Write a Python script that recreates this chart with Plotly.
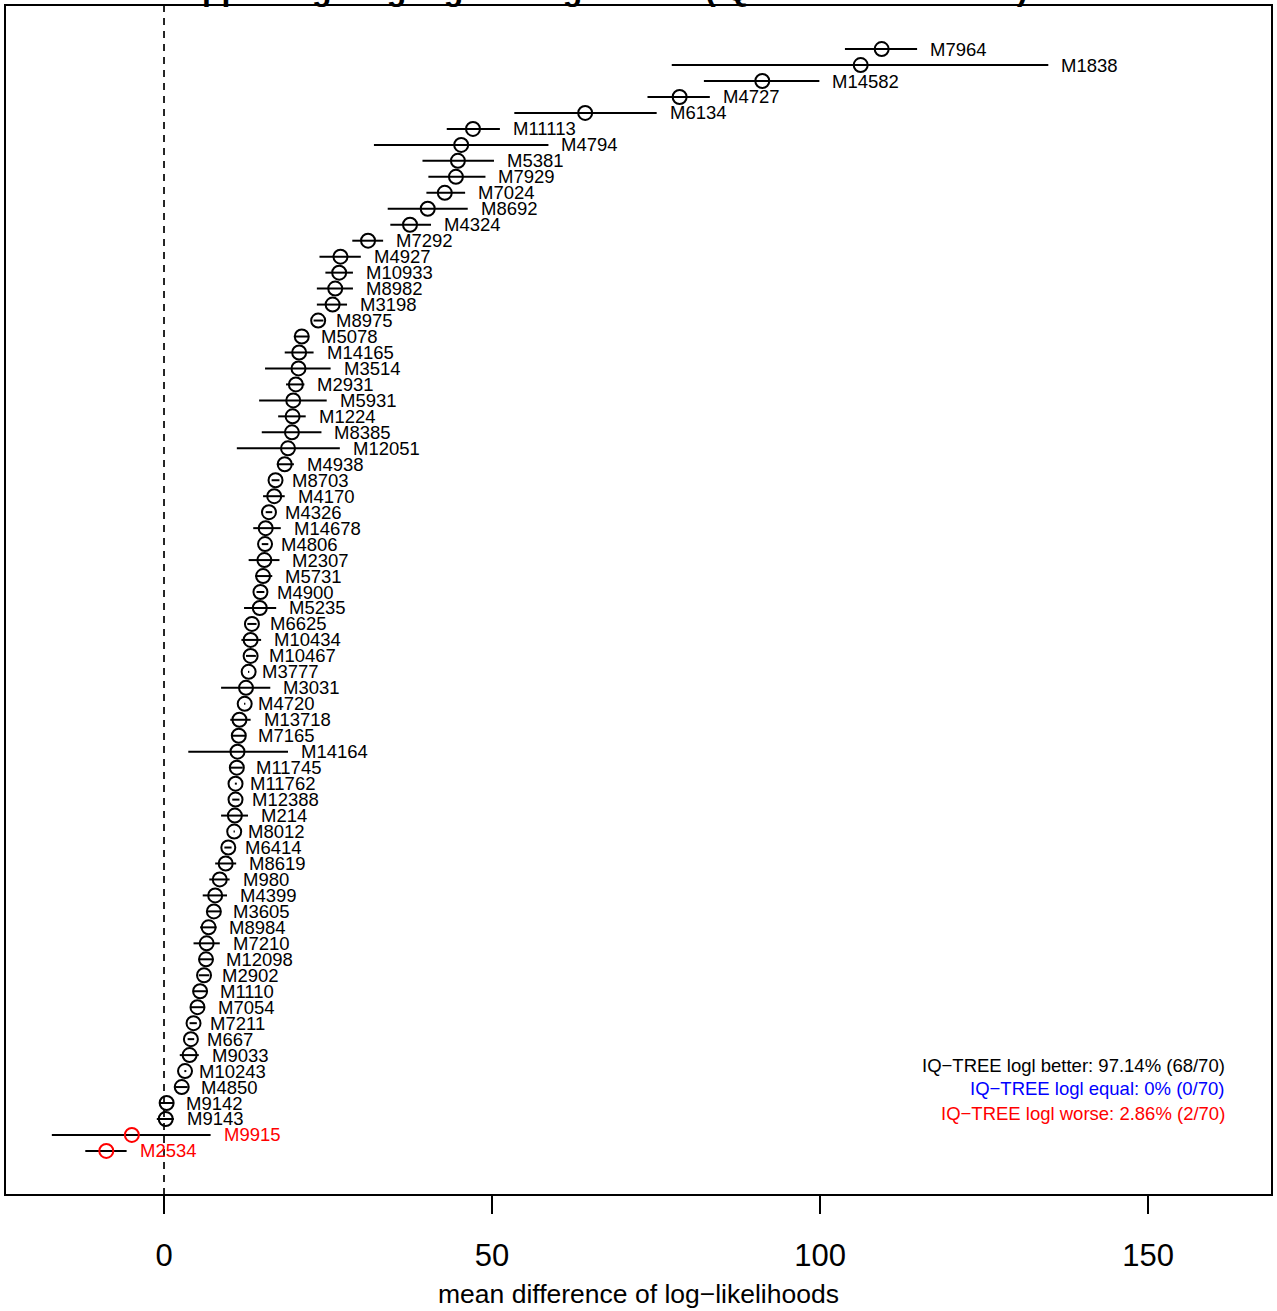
import plotly.graph_objects as go

# ---- data (top to bottom) ----
models = ["M7964", "M1838", "M14582", "M4727", "M6134", "M11113", "M4794", "M5381", "M7929", "M7024",
          "M8692", "M4324", "M7292", "M4927", "M10933", "M8982", "M3198", "M8975", "M5078", "M14165",
          "M3514", "M2931", "M5931", "M1224", "M8385", "M12051", "M4938", "M8703", "M4170", "M4326",
          "M14678", "M4806", "M2307", "M5731", "M4900", "M5235", "M6625", "M10434", "M10467", "M3777",
          "M3031", "M4720", "M13718", "M7165", "M14164", "M11745", "M11762", "M12388", "M214", "M8012",
          "M6414", "M8619", "M980", "M4399", "M3605", "M8984", "M7210", "M12098", "M2902", "M1110",
          "M7054", "M7211", "M667", "M9033", "M10243", "M4850", "M9142", "M9143", "M9915", "M2534"]

mean_diff = [109.4, 106.2, 91.2, 78.6, 64.2, 47.1, 45.3, 44.8, 44.5, 42.8,
             40.2, 37.5, 31.1, 26.9, 26.7, 26.1, 25.7, 23.5, 21.0, 20.6,
             20.5, 20.1, 19.7, 19.6, 19.5, 18.9, 18.4, 17.0, 16.8, 16.0,
             15.5, 15.4, 15.3, 15.1, 14.7, 14.6, 13.4, 13.2, 13.2, 12.9,
             12.5, 12.3, 11.5, 11.4, 11.2, 11.1, 10.9, 10.9, 10.8, 10.7,
             9.8, 9.4, 8.5, 7.8, 7.6, 6.8, 6.5, 6.4, 6.1, 5.5,
             5.1, 4.5, 4.1, 3.9, 3.2, 2.7, 0.4, 0.26, -4.9, -8.8]

ci_low = [103.8, 77.4, 82.3, 73.7, 53.4, 43.1, 32.0, 39.4, 40.3, 40.0,
          34.1, 34.5, 28.7, 23.7, 24.6, 23.3, 23.3, 22.8, 19.8, 18.4,
          15.4, 18.6, 14.5, 17.4, 14.9, 11.1, 17.2, 16.4, 15.1, 15.5,
          13.6, 14.9, 12.9, 13.9, 14.1, 12.2, 12.7, 11.8, 12.5, 12.8,
          8.7, 12.2, 10.1, 10.3, 3.7, 10.1, 10.8, 10.4, 8.7, 10.6,
          9.2, 7.8, 6.9, 5.9, 6.6, 5.5, 4.5, 5.4, 5.3, 4.5,
          4.0, 3.9, 3.6, 2.4, 3.1, 1.7, -0.7, -1.1, -17.1, -12.0]

ci_high = [114.8, 134.8, 99.9, 83.2, 75.1, 51.2, 58.6, 50.3, 49.0, 45.9,
           46.3, 40.7, 33.4, 30.0, 28.8, 28.8, 27.9, 24.3, 22.0, 22.8,
           25.4, 21.4, 24.8, 21.6, 24.0, 26.8, 19.8, 17.6, 18.4, 16.5,
           17.8, 15.9, 17.6, 16.5, 15.3, 17.1, 14.1, 14.8, 14.0, 13.0,
           16.2, 12.4, 13.2, 12.4, 18.9, 12.0, 11.1, 11.5, 12.8, 10.8,
           10.3, 11.0, 10.0, 9.6, 8.6, 8.0, 8.5, 7.4, 6.9, 6.6,
           6.2, 5.0, 4.6, 5.3, 3.4, 3.6, 1.4, 1.5, 7.1, -5.7]

x_ticks = [0, 50, 100, 150]
legend_lines = ["IQ\u2212TREE logl better: 97.14% (68/70)",
                "IQ\u2212TREE logl equal: 0% (0/70)",
                "IQ\u2212TREE logl worse: 2.86% (2/70)"]
legend_colors = ["black", "blue", "red"]
title_text = "Supporting single-gene alignments (IQ\u2212TREE vs RAxML)"
x_title = "mean difference of log\u2212likelihoods"

FONT = "Liberation Sans, Arial, Helvetica, sans-serif"
n = len(models)
rows = list(range(n))
colors = ["red" if m < 0 else "black" for m in mean_diff]

fig = go.Figure()

# error bars
bx, by = [], []
for i in rows:
    bx += [ci_low[i], ci_high[i], None]
    by += [i, i, None]
fig.add_trace(go.Scatter(x=bx, y=by, mode="lines",
                         line=dict(color="black", width=2), hoverinfo="skip", showlegend=False))

# circles
fig.add_trace(go.Scatter(x=mean_diff, y=rows, mode="markers",
                         marker=dict(symbol="circle-open", size=14, color=colors,
                                     line=dict(width=2, color=colors)),
                         showlegend=False))

annotations = []
for i in rows:
    annotations.append(dict(x=ci_high[i], y=i, xref="x", yref="y", text=models[i],
                            showarrow=False, xanchor="left", yanchor="middle", xshift=11,
                            font=dict(family=FONT, size=18.5, color=colors[i])))

leg_y = [0.1092, 0.0891, 0.0689]
for t, c, yy in zip(legend_lines, legend_colors, leg_y):
    annotations.append(dict(x=0.9645, y=yy, xref="paper", yref="paper", text=t,
                            showarrow=False, xanchor="right", yanchor="middle",
                            font=dict(family=FONT, size=18.5, color=c)))

annotations.append(dict(x=0.5, y=0, xref="paper", yref="paper", text=x_title,
                        showarrow=False, xanchor="center", yanchor="middle", yshift=-99,
                        font=dict(family=FONT, size=26.5, color="black")))

annotations.append(dict(x=0.465, y=1, xref="paper", yref="paper", text="<b>" + title_text + "</b>",
                        showarrow=False, xanchor="center", yanchor="bottom", yshift=-4,
                        font=dict(family=FONT, size=32, color="black")))

shapes = [
    dict(type="line", xref="x", yref="paper", x0=0, x1=0, y0=0, y1=1,
         line=dict(color="black", width=1.7, dash="7px,6px")),
    dict(type="rect", xref="paper", yref="paper", x0=0, x1=1, y0=0, y1=1,
         line=dict(color="black", width=2), layer="above"),
]

fig.update_layout(
    width=1277, height=1311,
    margin=dict(l=5, r=5, t=5, b=116, pad=0),
    paper_bgcolor="white", plot_bgcolor="white",
    showlegend=False,
    annotations=annotations,
    shapes=shapes,
    font=dict(family=FONT, color="black"),
    xaxis=dict(range=[-24.24, 168.9], tickvals=x_ticks, ticktext=[str(v) for v in x_ticks],
               ticks="outside", ticklen=18, tickwidth=1.5, tickcolor="black",
               tickfont=dict(family=FONT, size=31, color="black"),
               ticklabelstandoff=15,
               showgrid=False, zeroline=False, showline=False),
    yaxis=dict(range=[n - 1 + 2.76, -2.76], showticklabels=False, ticks="",
               showgrid=False, zeroline=False, showline=False),
)

fig.write_html("out.html")
